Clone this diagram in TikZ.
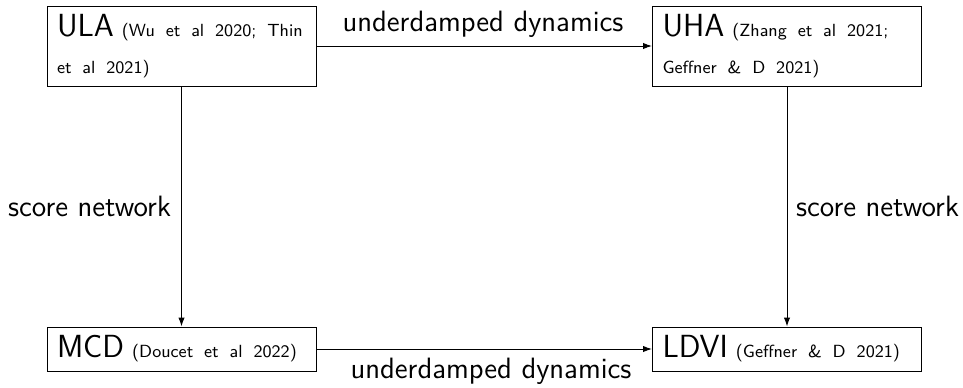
\documentclass[tikz,border=0pt]{standalone}
\usepackage{fontspec}
\usetikzlibrary{arrows.meta}
\newcommand{\bigt}[1]{{\fontsize{16}{18}\selectfont #1}}
\newcommand{\reft}[1]{{\fontsize{8.8}{18.5}\selectfont\spaceskip=0.62em\relax #1}}
\begin{document}
\begin{tikzpicture}[x=1pt,y=1pt,
  every node/.style={font=\sffamily},
  refbox/.style={draw, line width=0.5pt, rectangle, text width=124.5pt, inner xsep=5pt,
     align=left, font=\sffamily\fontsize{8.8}{18.5}\selectfont},
  tallbox/.style={refbox, minimum height=40pt},
  flatbox/.style={refbox, minimum height=22pt},
  conn/.style={line width=0.5pt, -{Latex[length=4.5pt,width=3.2pt]}},
  lab/.style={font=\sffamily\fontsize{14.7}{17}\selectfont, anchor=base, inner sep=0pt}]
\useasboundingbox (0,0) rectangle (481.5,193.5);
\node[tallbox] (ula) at (90.75,170.5) {\bigt{ULA}\hspace{4pt}\reft{(Wu et al 2020; Thin}\\\reft{et al 2021)}};
\node[tallbox] (uha) at (393.5,170.5) {\bigt{UHA}\hspace{4pt}\reft{(Zhang et al 2021;}\\\reft{Geffner \& D 2021)}};
\node[flatbox] (mcd) at (90.75,19) {\bigt{MCD}\hspace{4pt}\reft{(Doucet et al 2022)}};
\node[flatbox] (ldvi) at (393.5,19) {\bigt{LDVI}\hspace{4pt}\reft{(Geffner \& D 2021)}};
\draw[conn] (ula) -- (uha);
\draw[conn] (ula) -- (mcd);
\draw[conn] (uha) -- (ldvi);
\draw[conn] (mcd) -- (ldvi);
\node[lab] (l1) at (241.5,177.6) {underdamped dynamics};
\node[lab] (l2) at (245.5,4.5) {underdamped dynamics};
\node[lab] (l3) at (44.75,85.5) {score network};
\node[lab] (l4) at (438.75,85.5) {score network};
\end{tikzpicture}
\end{document}
